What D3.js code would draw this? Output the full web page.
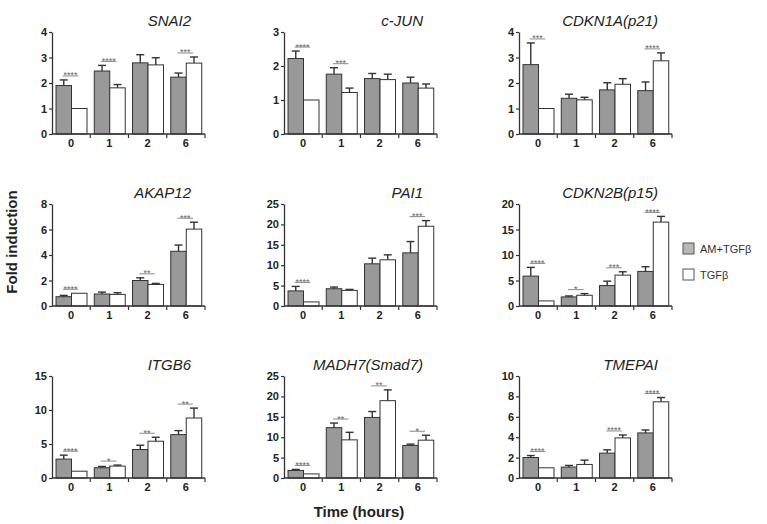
<!DOCTYPE html>
<html>
<head>
<meta charset="utf-8">
<script src="https://cdn.jsdelivr.net/npm/d3@7"></script>
<style>
    body { margin: 0; background: #fff; }
    svg { font-family: "Liberation Sans", Arial, sans-serif; }
</style>
</head>
<body>
<div id="chart"></div>
<script>
// panel order: row by row
const genes = ["SNAI2", "c-JUN", "CDKN1A(p21)", "AKAP12", "PAI1", "CDKN2B(p15)", "ITGB6", "MADH7(Smad7)", "TMEPAI"];
const timepoints = ["0", "1", "2", "6"];
const seriesNames = ["AM+TGFβ", "TGFβ"];

const yMax = [4, 3, 4, 8, 25, 20, 15, 25, 10];
const yStep = [1, 1, 1, 2, 5, 5, 5, 5, 2];

const amMean = [
    [1.90, 2.47, 2.79, 2.23],
    [2.22, 1.76, 1.63, 1.50],
    [2.72, 1.40, 1.73, 1.70],
    [0.73, 0.94, 2.00, 4.29],
    [3.70, 4.23, 10.34, 13.03],
    [5.86, 1.78, 4.01, 6.78],
    [2.78, 1.51, 4.19, 6.38],
    [1.85, 12.34, 14.84, 7.98],
    [2.01, 1.07, 2.44, 4.42]
];
const amErr = [
    [0.22, 0.22, 0.32, 0.16],
    [0.22, 0.19, 0.15, 0.17],
    [0.85, 0.16, 0.28, 0.34],
    [0.10, 0.15, 0.21, 0.49],
    [1.10, 0.41, 1.39, 2.77],
    [1.71, 0.19, 0.86, 0.92],
    [0.58, 0.19, 0.63, 0.59],
    [0.25, 1.13, 1.45, 0.32],
    [0.19, 0.16, 0.32, 0.29]
];
const tgfMean = [
    [1.00, 1.81, 2.71, 2.78],
    [1.00, 1.22, 1.60, 1.35],
    [1.00, 1.34, 1.95, 2.87],
    [1.00, 0.91, 1.69, 6.03],
    [1.00, 3.83, 11.32, 19.54],
    [1.00, 2.10, 6.05, 16.45],
    [1.00, 1.75, 5.41, 8.82],
    [1.00, 9.35, 18.95, 9.27],
    [1.00, 1.33, 3.93, 7.47]
];
const tgfErr = [
    [0, 0.13, 0.28, 0.24],
    [0, 0.13, 0.16, 0.12],
    [0, 0.10, 0.22, 0.31],
    [0, 0.13, 0.08, 0.54],
    [0, 0.24, 1.22, 1.39],
    [0, 0.33, 0.66, 1.12],
    [0, 0.15, 0.58, 1.46],
    [0, 1.85, 2.65, 1.21],
    [0, 0.42, 0.29, 0.42]
];
const significance = [
    ["****", "****", "", "***"],
    ["****", "***", "", ""],
    ["***", "", "", "****"],
    ["****", "", "**", "***"],
    ["****", "", "", "***"],
    ["****", "*", "***", "****"],
    ["****", "*", "**", "**"],
    ["****", "**", "**", "*"],
    ["****", "", "****", "****"]
];

const barColors = ["#999999", "#ffffff"];
const ink = "#333";

const width = 767, height = 524;
const colX = [52, 284, 519];
const rowY = [32, 204, 376];
const pw = 153, ph = 102;

const svg = d3.select("#chart").append("svg")
    .attr("width", width)
    .attr("height", height);

function drawPanel(i) {
    const g = svg.append("g")
        .attr("transform", `translate(${colX[i % 3]},${rowY[Math.floor(i / 3)]})`);

    const x0 = d3.scaleBand().domain(timepoints).range([0, pw]);
    const x1 = d3.scaleBand().domain(seriesNames)
        .range([x0.step() * 0.105, x0.step() * 0.915]);
    const y = d3.scaleLinear().domain([0, yMax[i]]).range([ph, 0]);

    const rows = timepoints.map((t, j) => ({
        t,
        vals: [
            { s: seriesNames[0], v: amMean[i][j], e: amErr[i][j], c: barColors[0] },
            { s: seriesNames[1], v: tgfMean[i][j], e: tgfErr[i][j], c: barColors[1] }
        ],
        sig: significance[i][j]
    }));

    const grp = g.selectAll(".grp").data(rows).enter().append("g")
        .attr("transform", d => `translate(${x0(d.t)},0)`);

    grp.selectAll("rect").data(d => d.vals).enter().append("rect")
        .attr("x", d => x1(d.s))
        .attr("y", d => y(d.v))
        .attr("width", x1.bandwidth())
        .attr("height", d => ph - y(d.v))
        .attr("fill", d => d.c)
        .attr("stroke", ink)
        .attr("stroke-width", 1);

    // error bars (upper only)
    const eb = grp.selectAll(".err").data(d => d.vals.filter(v => v.e > 0)).enter().append("g");
    eb.append("line")
        .attr("x1", d => x1(d.s) + x1.bandwidth() / 2)
        .attr("x2", d => x1(d.s) + x1.bandwidth() / 2)
        .attr("y1", d => y(d.v))
        .attr("y2", d => y(d.v + d.e))
        .attr("stroke", ink).attr("stroke-width", 1.4);
    eb.append("line")
        .attr("x1", d => x1(d.s) + x1.bandwidth() / 2 - 4)
        .attr("x2", d => x1(d.s) + x1.bandwidth() / 2 + 4)
        .attr("y1", d => y(d.v + d.e))
        .attr("y2", d => y(d.v + d.e))
        .attr("stroke", ink).attr("stroke-width", 1.4);

    // significance marks
    const sg = grp.filter(d => d.sig !== "");
    const sigY = d => y(d3.max(d.vals, v => v.v + v.e)) - 4;
    sg.append("line")
        .attr("x1", x1(seriesNames[0]) + x1.bandwidth() / 2 - 1)
        .attr("x2", x1(seriesNames[1]) + x1.bandwidth() / 2 - 1)
        .attr("y1", sigY)
        .attr("y2", sigY)
        .attr("stroke", "#8a8a8a").attr("stroke-width", 1);
    sg.append("text")
        .attr("x", x1(seriesNames[1]) - 1)
        .attr("y", d => sigY(d) + 2.5)
        .attr("text-anchor", "middle")
        .style("font-size", "9px")
        .style("fill", "#666")
        .text(d => d.sig);

    // y axis
    const ticks = d3.range(0, yMax[i] + 0.001, yStep[i]);
    const ya = g.append("g")
        .call(d3.axisLeft(y).tickValues(ticks).tickSize(3).tickSizeOuter(0).tickFormat(d3.format("d")));
    ya.select(".domain").attr("stroke", ink).attr("stroke-width", 1.3);
    ya.selectAll(".tick line").attr("stroke", ink).attr("stroke-width", 1.2);
    ya.selectAll(".tick text")
        .attr("x", -5)
        .style("font-family", "'Liberation Sans', Arial, sans-serif")
        .style("font-size", "11px")
        .style("font-weight", "bold")
        .style("fill", "#222");

    // x axis with ticks at group boundaries
    const xa = g.append("g").attr("transform", `translate(0,${ph})`);
    xa.append("line")
        .attr("x1", 0).attr("x2", pw)
        .attr("stroke", ink).attr("stroke-width", 1.3);
    xa.selectAll(".bt").data(timepoints).enter().append("line")
        .attr("x1", d => x0(d) + x0.step())
        .attr("x2", d => x0(d) + x0.step())
        .attr("y1", 0).attr("y2", 4)
        .attr("stroke", ink).attr("stroke-width", 1.2);
    xa.selectAll(".lbl").data(timepoints).enter().append("text")
        .attr("x", d => x0(d) + x0.bandwidth() / 2)
        .attr("y", 13)
        .attr("text-anchor", "middle")
        .style("font-size", "11px")
        .style("font-weight", "bold")
        .style("fill", "#222")
        .text(d => d);

    g.append("text")
        .attr("x", 139)
        .attr("y", -6)
        .attr("text-anchor", "end")
        .style("font-size", "15px")
        .style("font-style", "italic")
        .style("fill", "#222")
        .text(genes[i]);
}

genes.forEach((_, i) => drawPanel(i));

// shared labels
svg.append("text")
    .attr("transform", "translate(17,242) rotate(-90)")
    .attr("text-anchor", "middle")
    .style("font-size", "15px")
    .style("font-weight", "bold")
    .style("fill", "#222")
    .text("Fold induction");

svg.append("text")
    .attr("x", 359)
    .attr("y", 517)
    .attr("text-anchor", "middle")
    .style("font-size", "15px")
    .style("font-weight", "bold")
    .style("fill", "#222")
    .text("Time (hours)");

// legend
const legend = svg.append("g").attr("transform", "translate(683,243)");
seriesNames.forEach((s, k) => {
    const item = legend.append("g").attr("transform", `translate(0,${k * 26})`);
    item.append("rect")
        .attr("width", 11).attr("height", 11)
        .attr("fill", k === 0 ? "#b8b8b8" : "#fff")
        .attr("stroke", "#555").attr("stroke-width", 1);
    item.append("text")
        .attr("x", 17).attr("y", 10)
        .style("font-size", "11px")
        .style("fill", "#333")
        .text(s);
});
</script>
</body>
</html>
